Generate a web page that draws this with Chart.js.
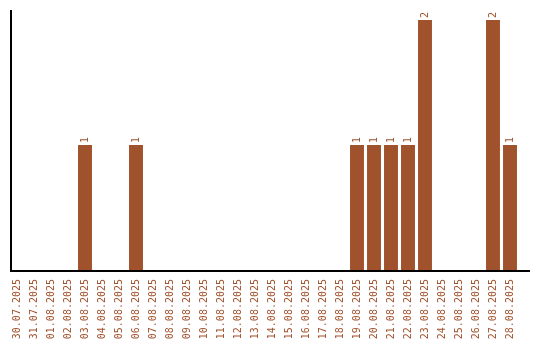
<!DOCTYPE html>
<html>
<head>
<meta charset="utf-8">
<script src="https://cdn.jsdelivr.net/npm/chart.js@4/dist/chart.umd.min.js"></script>
<style>
  html, body { margin: 0; padding: 0; background: #fff; }
  #wrap { width: 540px; height: 340px; }
</style>
</head>
<body>
<div id="wrap"><canvas id="chart" width="540" height="340"></canvas></div>
<script>
var days = [
  "30.07.2025", "31.07.2025", "01.08.2025", "02.08.2025", "03.08.2025",
  "04.08.2025", "05.08.2025", "06.08.2025", "07.08.2025", "08.08.2025",
  "09.08.2025", "10.08.2025", "11.08.2025", "12.08.2025", "13.08.2025",
  "14.08.2025", "15.08.2025", "16.08.2025", "17.08.2025", "18.08.2025",
  "19.08.2025", "20.08.2025", "21.08.2025", "22.08.2025", "23.08.2025",
  "24.08.2025", "25.08.2025", "26.08.2025", "27.08.2025", "28.08.2025"
];
var counts = [0, 0, 0, 0, 1, 0, 0, 1, 0, 0, 0, 0, 0, 0, 0, 0, 0, 0, 0, 0, 1, 1, 1, 1, 2, 0, 0, 0, 2, 1];

var brown = "#A0522D";
var monoFont = "'DejaVu Sans Mono', monospace";

// axis lines (the original draws them a bit outside the bar area)
var axisLines = {
  id: "axisLines",
  afterDraw: function(chart) {
    var a = chart.chartArea, ctx = chart.ctx;
    ctx.save();
    ctx.strokeStyle = "#000";
    ctx.lineWidth = 2;
    ctx.beginPath();
    ctx.moveTo(a.left + 2.5, a.top);
    ctx.lineTo(a.left + 2.5, a.bottom + 1);
    ctx.lineTo(a.right + 11.5, a.bottom + 1);
    ctx.stroke();
    ctx.restore();
  }
};

// value labels above bars, rotated like the ticks
var valueLabels = {
  id: "valueLabels",
  afterDatasetsDraw: function(chart) {
    var ctx = chart.ctx;
    var meta = chart.getDatasetMeta(0);
    ctx.save();
    ctx.fillStyle = brown;
    ctx.font = "10px " + monoFont;
    ctx.textAlign = "left";
    ctx.textBaseline = "middle";
    meta.data.forEach(function(bar, i) {
      if (!counts[i]) return;
      ctx.save();
      ctx.translate(bar.x, bar.y - 2);
      ctx.rotate(-Math.PI / 2);
      ctx.fillText(String(counts[i]), 0, 0);
      ctx.restore();
    });
    ctx.restore();
  }
};

new Chart(document.getElementById("chart").getContext("2d"), {
  type: "bar",
  data: {
    labels: days,
    datasets: [{
      data: counts,
      backgroundColor: brown,
      borderWidth: 0,
      barPercentage: 1,
      categoryPercentage: 0.82
    }]
  },
  options: {
    responsive: false,
    animation: false,
    layout: { padding: { left: 8.5, right: 21.5, top: 10, bottom: 0 } },
    plugins: { legend: { display: false }, tooltip: { enabled: false } },
    scales: {
      x: {
        grid: { display: false },
        border: { display: false },
        ticks: {
          color: brown,
          font: { family: monoFont, size: 10 },
          minRotation: 90,
          maxRotation: 90,
          autoSkip: false,
          padding: 1
        },
        afterFit: function(s) { s.height = 70; }
      },
      y: {
        min: 0,
        max: 2.08,
        grid: { display: false },
        border: { display: false },
        ticks: { display: false },
        afterFit: function(s) { s.width = 0; }
      }
    }
  },
  plugins: [axisLines, valueLabels]
});
</script>
</body>
</html>
